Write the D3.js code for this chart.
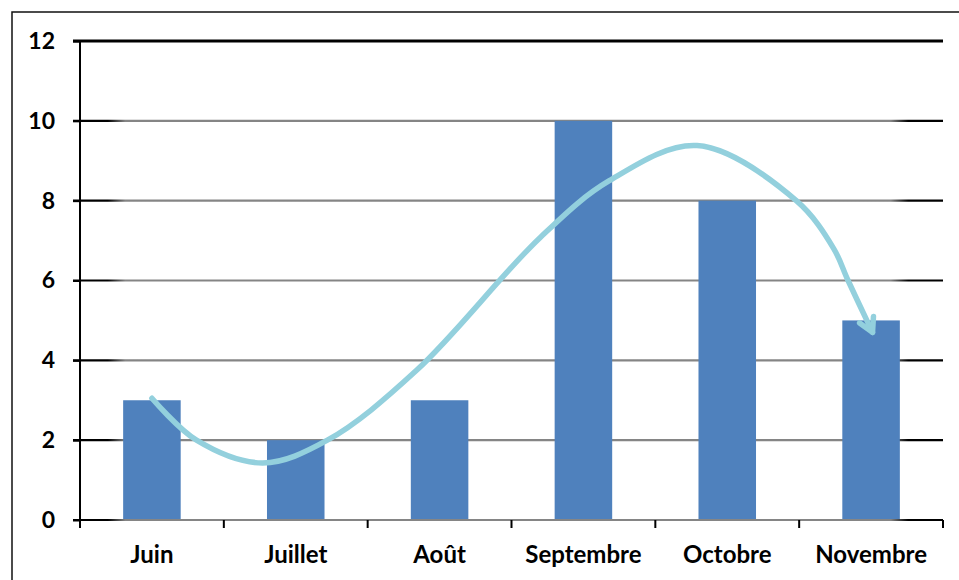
<!DOCTYPE html>
<html><head><meta charset="utf-8">
<script src="https://cdn.jsdelivr.net/npm/d3@7"></script>
<style>html,body{margin:0;padding:0;background:#fff}svg{display:block}</style>
</head><body>
<script>
const categories = ["Juin","Juillet","Août","Septembre","Octobre","Novembre"];
const values = [3,2,3,10,8,5];
const yTicks = [0,2,4,6,8,10,12];
// annotation arrow path: [position in category bands from left, value]
const arrowBand = [0.50,0.81,1.27,1.72,2.34,3.20,3.68,4.29,4.98,5.24,5.34,5.51];
const arrowVal  = [3.05,2.0,1.43,2.0,3.75,7.08,8.5,9.38,8.0,6.8,6.0,4.7];

const W=959,H=580;
const FONT="Lato";
const svg=d3.select("body").append("svg").attr("width",W).attr("height",H);
const defs=svg.append("defs");
const g1=defs.append("linearGradient").attr("id","gridg").attr("gradientUnits","userSpaceOnUse")
  .attr("x1",73).attr("x2",943).attr("y1",0).attr("y2",0);
[[0,"#000"],[0.04,"#000"],[0.06,"#858585"],[0.94,"#858585"],[0.96,"#000"],[1,"#000"]]
  .forEach(([o,c])=>g1.append("stop").attr("offset",o).attr("stop-color",c));

// outer frame
svg.append("path").attr("d",`M12,${H} V12 H${W}`).attr("fill","none").attr("stroke","#111").attr("stroke-width",1.5);

const x=d3.scaleBand().domain(categories).range([80,943]).paddingInner(0.6).paddingOuter(0.3);
const xb=d3.scaleBand().domain(categories).range([80,943]);
const y=d3.scaleLinear().domain([0,12]).range([520,41]);

// gridlines
svg.append("g").selectAll("line").data(yTicks.filter(d=>d>0&&d<12)).join("line")
  .attr("x1",73).attr("x2",943).attr("y1",d=>y(d)).attr("y2",d=>y(d))
  .attr("stroke","url(#gridg)").attr("stroke-width",2.2);
svg.append("line").attr("x1",73).attr("x2",943).attr("y1",y(12)).attr("y2",y(12))
  .attr("stroke","#000").attr("stroke-width",3);

// bars
svg.append("g").selectAll("rect").data(values).join("rect")
  .attr("x",(d,i)=>x(categories[i])).attr("width",x.bandwidth())
  .attr("y",d=>y(d)).attr("height",d=>y(0)-y(d)).attr("fill","#4f81bd");

// x axis baseline
svg.append("line").attr("x1",73).attr("x2",943).attr("y1",y(0)).attr("y2",y(0))
  .attr("stroke","url(#gridg)").attr("stroke-width",2.2);
// x ticks at band boundaries
const bounds=categories.map(c=>xb(c)).concat([943]);
svg.append("g").selectAll("line").data(bounds).join("line")
  .attr("x1",d=>d).attr("x2",d=>d).attr("y1",y(0)).attr("y2",y(0)+8)
  .attr("stroke","#000").attr("stroke-width",2);
// y axis
const yAxis=d3.axisLeft(y).tickValues(yTicks).tickSize(7).tickPadding(18);
const ya=svg.append("g").attr("transform","translate(80,0)").call(yAxis);
ya.select(".domain").remove();
ya.selectAll(".tick line").attr("stroke","#000").attr("stroke-width",2);
ya.selectAll("text").attr("font-family",FONT).attr("font-size",23).attr("font-weight",700).attr("fill","#000");
svg.append("line").attr("x1",80).attr("x2",80).attr("y1",y(12)-1).attr("y2",y(0)+8)
  .attr("stroke","#000").attr("stroke-width",2);

// x labels
svg.append("g").selectAll("text").data(categories).join("text")
  .attr("x",d=>xb(d)+xb.bandwidth()/2).attr("y",563).attr("text-anchor","middle")
  .attr("font-family",FONT).attr("font-size",24).attr("font-weight",700).attr("fill","#000")
  .text(d=>d);

// arrow annotation
const pts=arrowBand.map((b,i)=>[80+b*xb.step(),y(arrowVal[i])]);
const line=d3.line().curve(d3.curveCatmullRom.alpha(0.5));
svg.append("path").attr("d",line(pts)).attr("fill","none").attr("stroke","#93d0dd")
  .attr("stroke-width",5.5).attr("stroke-linecap","round");
const tip=pts[pts.length-1], prev=pts[pts.length-2];
const ang=Math.atan2(tip[1]-prev[1],tip[0]-prev[0]);
const L=16, spread=0.5;
const a1=[tip[0]-L*Math.cos(ang-spread),tip[1]-L*Math.sin(ang-spread)];
const a2=[tip[0]-L*Math.cos(ang+spread),tip[1]-L*Math.sin(ang+spread)];
svg.append("path").attr("d",`M${a1}L${tip}L${a2}`).attr("fill","none").attr("stroke","#93d0dd")
  .attr("stroke-width",5.5).attr("stroke-linecap","round").attr("stroke-linejoin","round");
</script>
</body></html>
